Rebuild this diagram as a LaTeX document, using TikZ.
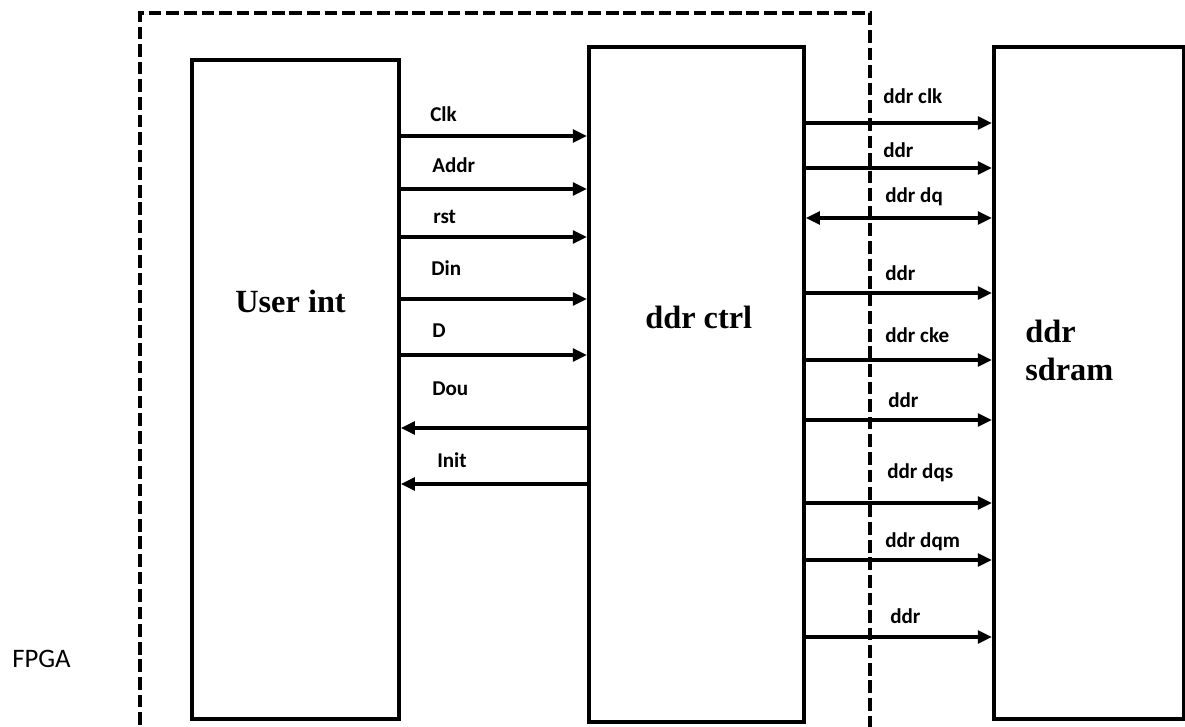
\documentclass[tikz,border=0pt]{standalone}
\usepackage{fontspec}
\setmainfont{Liberation Serif}
\newfontfamily\sigfont{Carlito}
\usetikzlibrary{arrows.meta}

\begin{document}
\begin{tikzpicture}[
    x=0.025cm, y=-0.025cm,
    block/.style={
        draw,
        line width=2.6pt,
        rectangle,
        inner sep=0pt,
        anchor=north west
    },
    sig/.style={line width=2.3pt,-{Triangle[length=10pt,width=9pt]}},
    bisig/.style={line width=2.3pt,{Triangle[length=10pt,width=9pt]}-{Triangle[length=10pt,width=9pt]}},
    siglabel/.style={anchor=base west,inner sep=0pt,font=\sigfont\bfseries\fontsize{15}{17}\selectfont},
    blocklabel/.style={anchor=base west,inner sep=0pt,font=\bfseries\fontsize{23}{25}\selectfont}
]

\useasboundingbox (0,0) rectangle (1185,726);

\draw[line width=2.4pt,dash pattern=on 9pt off 3.5pt]
    (140,760) -- (140,13) -- (870,13) -- (870,760);

\node[anchor=base west,inner sep=0pt,font=\sigfont\fontsize{19}{21}\selectfont]
    (fpga) at (12,667) {FPGA};

\node[block,minimum width=5.175cm,minimum height=16.475cm] (user) at (190,58) {};
\node[block,minimum width=5.375cm,minimum height=16.875cm] (ctrl) at (587,45) {};
\node[block,minimum width=4.75cm,minimum height=16.8cm] (sdram) at (992,45) {};

\node[blocklabel] (userlbl) at (235,312) {User int};
\node[blocklabel] (ctrllbl) at (645,328) {ddr ctrl};
\node[blocklabel] (sdramlbl1) at (1025,342) {ddr};
\node[blocklabel] (sdramlbl2) at (1025,380) {sdram};

\node[siglabel] (clk) at (430,121) {Clk};
\node[siglabel] (addr) at (432,172) {Addr};
\node[siglabel] (rst) at (433,223) {rst};
\node[siglabel] (din) at (431,275) {Din};
\node[siglabel] (d) at (432,337) {D};
\node[siglabel] (dou) at (432,395) {Dou};
\node[siglabel] (init) at (437,467) {Init};

\draw[sig] (user.east |- 0,136) -- (ctrl.west |- 0,136);
\draw[sig] (user.east |- 0,189) -- (ctrl.west |- 0,189);
\draw[sig] (user.east |- 0,237) -- (ctrl.west |- 0,237);
\draw[sig] (user.east |- 0,299) -- (ctrl.west |- 0,299);
\draw[sig] (user.east |- 0,355) -- (ctrl.west |- 0,355);
\draw[sig] (ctrl.west |- 0,428) -- (user.east |- 0,428);
\draw[sig] (ctrl.west |- 0,484) -- (user.east |- 0,484);

\node[siglabel] (ddrclk) at (883,103) {ddr clk};
\node[siglabel] (ddra) at (883,157) {ddr};
\node[siglabel] (ddrdq) at (885,202) {ddr dq};
\node[siglabel] (ddrb) at (885,280) {ddr};
\node[siglabel] (ddrcke) at (885,342) {ddr cke};
\node[siglabel] (ddrc) at (888,407) {ddr};
\node[siglabel] (ddrdqs) at (887,478) {ddr dqs};
\node[siglabel] (ddrdqm) at (885,547) {ddr dqm};
\node[siglabel] (ddrd) at (890,623) {ddr};

\draw[sig] (ctrl.east |- 0,123) -- (sdram.west |- 0,123);
\draw[sig] (ctrl.east |- 0,168) -- (sdram.west |- 0,168);
\draw[bisig] (ctrl.east |- 0,218) -- (sdram.west |- 0,218);
\draw[sig] (ctrl.east |- 0,293) -- (sdram.west |- 0,293);
\draw[sig] (ctrl.east |- 0,360) -- (sdram.west |- 0,360);
\draw[sig] (ctrl.east |- 0,420) -- (sdram.west |- 0,420);
\draw[sig] (ctrl.east |- 0,503) -- (sdram.west |- 0,503);
\draw[sig] (ctrl.east |- 0,560) -- (sdram.west |- 0,560);
\draw[sig] (ctrl.east |- 0,637) -- (sdram.west |- 0,637);

\end{tikzpicture}
\end{document}
